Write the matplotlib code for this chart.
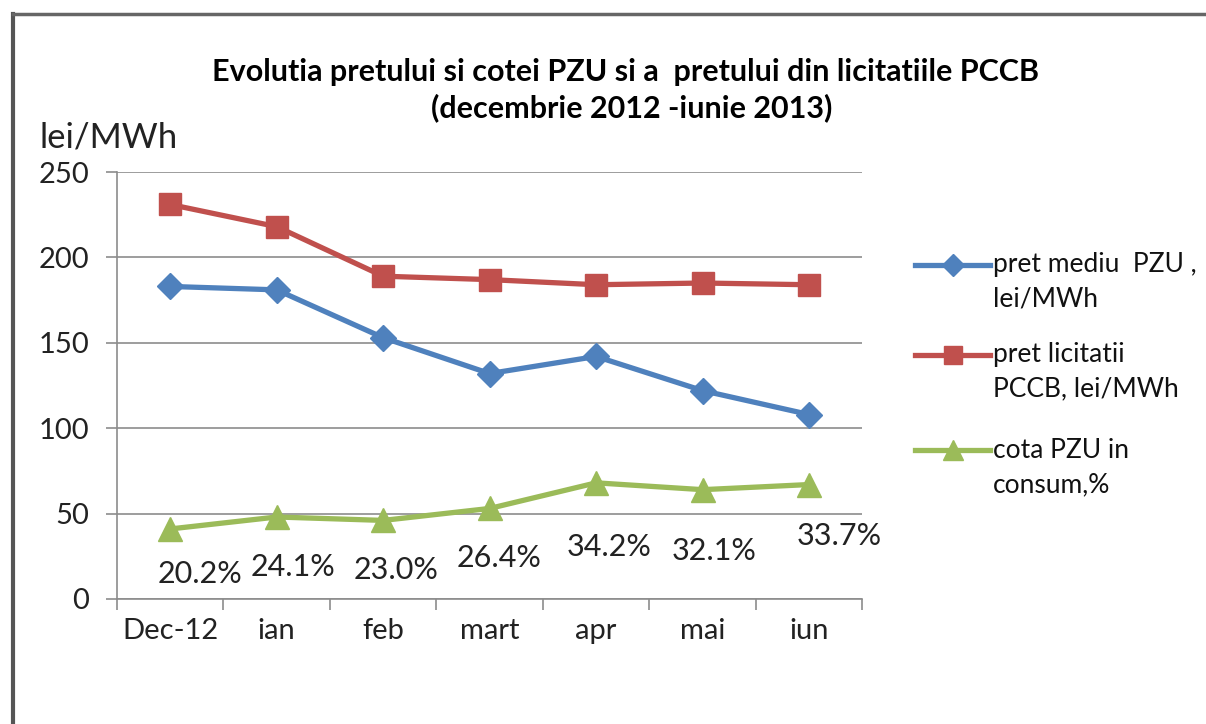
import matplotlib.pyplot as plt
from matplotlib.lines import Line2D

plt.rcParams['font.family'] = ['Lato', 'DejaVu Sans']

# data
months = ['Dec-12', 'ian', 'feb', 'mart', 'apr', 'mai', 'iun']
pret_pzu = [183, 181, 153, 132, 142, 122, 108]
pret_pccb = [231, 218, 189, 187, 184, 185, 184]
cota_pzu = [41, 48, 46, 53, 68, 64, 67]
cota_labels = ['20.2%', '24.1%', '23.0%', '26.4%', '34.2%', '32.1%', '33.7%']
leg_labels = [['pret mediu  PZU ,', 'lei/MWh'],
              ['pret licitatii', 'PCCB, lei/MWh'],
              ['cota PZU in', 'consum,%']]

blue = '#4F81BD'
red = '#C0504D'
green = '#9BBB59'
grid_c = '#8C8C8C'

fig = plt.figure(figsize=(12.06, 7.24), dpi=100)
ax = fig.add_axes([0.097, 0.1727, 0.618, 0.5897])

x = range(len(months))
ax.plot(x, pret_pzu, color=blue, lw=3.8, marker='D', ms=13)
ax.plot(x, pret_pccb, color=red, lw=3.8, marker='s', ms=16)
ax.plot(x, cota_pzu, color=green, lw=3.8, marker='^', ms=17)

# percent labels under the green points
offs = [(30, -45), (16, -50), (13, -50), (9, -50), (13, -64), (12, -61), (30, -51)]
for i, (v, t) in enumerate(zip(cota_pzu, cota_labels)):
    ax.annotate(t, (i, v), xytext=offs[i], textcoords='offset pixels',
                ha='center', va='center', fontsize=22, color='#222222')

ax.set_xlim(-0.5, len(months) - 0.5)
ax.set_ylim(0, 250)
ax.set_yticks(range(0, 251, 50))
ax.yaxis.grid(True, color=grid_c, lw=1.2)
ax.set_axisbelow(True)
for s in ['top', 'right']:
    ax.spines[s].set_visible(False)
for s in ['left', 'bottom']:
    ax.spines[s].set_color(grid_c)
    ax.spines[s].set_linewidth(1.2)

# category ticks between months, labels centered
ax.set_xticks([i - 0.5 for i in range(len(months) + 1)])
ax.set_xticklabels([])
ax.set_xticks(list(x), minor=True)
ax.set_xticklabels(months, minor=True)
ax.tick_params(axis='x', which='major', length=8, color=grid_c, width=1.2)
ax.tick_params(axis='x', which='minor', length=0, pad=14, labelsize=21, labelcolor='#222222')
ax.tick_params(axis='y', length=8, color=grid_c, width=1.2, pad=12, labelsize=21, labelcolor='#222222')

fig.text(0.519, 0.9, 'Evolutia pretului si cotei PZU si a  pretului din licitatiile PCCB',
         ha='center', va='center', fontsize=22, fontweight='bold')
fig.text(0.524, 0.851, '(decembrie 2012 -iunie 2013)', ha='center', va='center',
         fontsize=22, fontweight='bold')
fig.text(0.033, 0.81, 'lei/MWh', ha='left', va='center', fontsize=25, color='#222222')

# legend drawn Excel-style: handle aligned with the first text line
styles = [(blue, 'D', 11), (red, 's', 13), (green, '^', 14)]
leg_y = [0.634, 0.510, 0.378]
for (c, m, s), y, lines in zip(styles, leg_y, leg_labels):
    fig.add_artist(Line2D([0.759, 0.821], [y, y], color=c, lw=3.8))
    fig.add_artist(Line2D([0.790], [y], color=c, marker=m, ms=s, lw=0))
    for k, t in enumerate(lines):
        fig.text(0.823, y - k * 0.047, t, ha='left', va='center', fontsize=19,
                 color='#111111')

# outer frame lines (left and top)
fig.add_artist(Line2D([0.011, 0.011], [0.0, 0.981], color='#555555', lw=3))
fig.add_artist(Line2D([0.011, 1.0], [0.981, 0.981], color='#666666', lw=2.5))

fig.savefig('out.png', dpi=100)
